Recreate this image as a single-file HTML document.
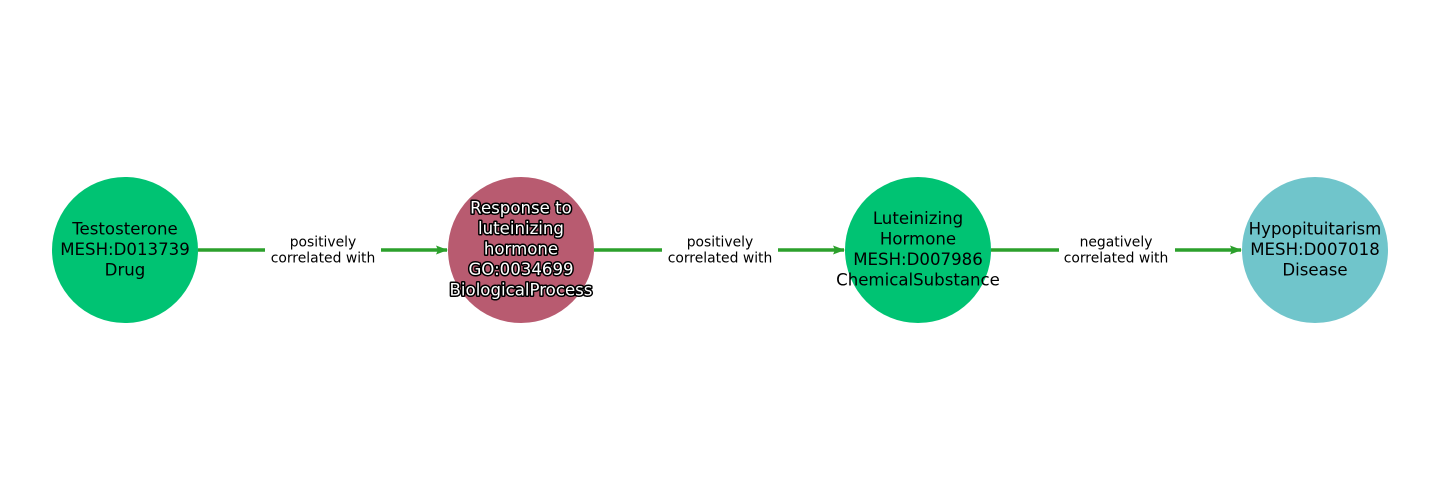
<!DOCTYPE html>
<html><head><meta charset="utf-8"><style>
html,body{margin:0;padding:0;background:#fff;}
svg{display:block;}
text{font-family:"DejaVu Sans","Liberation Sans",sans-serif;}
</style></head><body>
<svg width="1440" height="500" viewBox="0 0 1440 500" xmlns="http://www.w3.org/2000/svg">
<defs>
<marker id="ah" markerWidth="12" markerHeight="9" refX="11" refY="4.5" orient="auto" markerUnits="userSpaceOnUse">
<path d="M0,0 L12,4.5 L0,9 L2,4.5 Z" fill="#2ca02c"/>
</marker>
</defs>
<g stroke="#2ca02c" stroke-width="3.5" fill="none">
<line x1="198" y1="250" x2="447" y2="250" marker-end="url(#ah)"/>
<line x1="594" y1="250" x2="844" y2="250" marker-end="url(#ah)"/>
<line x1="991" y1="250" x2="1241" y2="250" marker-end="url(#ah)"/>
</g>
<g fill="#fff">
<rect x="265" y="232" width="116" height="36"/>
<rect x="662" y="232" width="116" height="36"/>
<rect x="1059" y="232" width="116" height="36"/>
</g>
<g font-size="13.9" text-anchor="middle" fill="#000">
<text x="323" y="246.5">positively</text><text x="323" y="262.5">correlated with</text>
<text x="720" y="246.5">positively</text><text x="720" y="262.5">correlated with</text>
<text x="1116" y="246.5">negatively</text><text x="1116" y="262.5">correlated with</text>
</g>
<circle cx="125" cy="250" r="73" fill="#00c373"/>
<circle cx="521" cy="250" r="73" fill="#b85b70"/>
<circle cx="918" cy="250" r="73" fill="#00c373"/>
<circle cx="1315" cy="250" r="73" fill="#70c5cb"/>
<g font-size="16.6" text-anchor="middle" fill="#000">
<text x="125" y="234.5">Testosterone</text>
<text x="125" y="255">MESH:D013739</text>
<text x="125" y="275.5">Drug</text>
<text x="918" y="224">Luteinizing</text>
<text x="918" y="244.5">Hormone</text>
<text x="918" y="265">MESH:D007986</text>
<text x="918" y="285.5">ChemicalSubstance</text>
<text x="1315" y="234.5">Hypopituitarism</text>
<text x="1315" y="255">MESH:D007018</text>
<text x="1315" y="275.5">Disease</text>
</g>
<g font-size="16.6" text-anchor="middle" fill="#fff" stroke="#000" stroke-width="3" paint-order="stroke" stroke-linejoin="round">
<text x="521" y="213.5">Response to</text>
<text x="521" y="234">luteinizing</text>
<text x="521" y="254.5">hormone</text>
<text x="521" y="275">GO:0034699</text>
<text x="521" y="295.5">BiologicalProcess</text>
</g>
</svg>
</body></html>
